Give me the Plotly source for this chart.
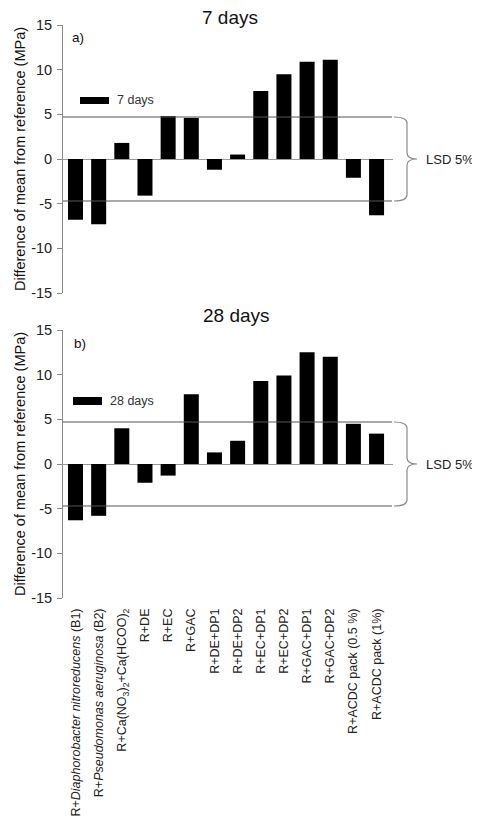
import plotly.graph_objects as go

categories = [
    "R+<i>Diaphorobacter nitroreducens</i> (B1)",
    "R+<i>Pseudomonas aeruginosa</i> (B2)",
    "R+Ca(NO<sub>3</sub>)<sub>2</sub>+Ca(HCOO)<sub>2</sub>",
    "R+DE", "R+EC", "R+GAC",
    "R+DE+DP1", "R+DE+DP2", "R+EC+DP1", "R+EC+DP2",
    "R+GAC+DP1", "R+GAC+DP2",
    "R+ACDC pack (0.5 %)", "R+ACDC pack (1%)",
]
days7 = [-6.8, -7.3, 1.8, -4.1, 4.8, 4.6, -1.2, 0.5, 7.6, 9.5, 10.9, 11.1, -2.1, -6.3]
days28 = [-6.3, -5.8, 4.0, -2.1, -1.3, 7.8, 1.3, 2.6, 9.3, 9.9, 12.5, 12.0, 4.5, 3.4]
lsd7 = 4.7
lsd28 = 4.7
y_ticks = [-15, -10, -5, 0, 5, 10, 15]
y_tick_labels = ["-15", "-10", "-5", "0", "5", "10", "15"]

FONT = "Arial, Liberation Sans, sans-serif"
# page body has an 8px margin, so the figure is drawn 8px in from the top-left
OFF = 8
W, H = 480 - OFF, 825 - 2 * OFF
PL, PR, PT, PB = 63, 393, 25, 598  # plot area in page pixels
L = PL - OFF
T = PT - OFF
R = W - (PR - OFF)
B = H - (PB - OFF)
PW = PR - PL
PH = PB - PT

def px_x(px):
    return (px - PL) / PW

def px_y(py):
    return (PB - py) / PH

top_dom = [px_y(293), 1.0]
bot_dom = [0.0, px_y(330)]

fig = go.Figure()
fig.add_trace(go.Bar(x=categories, y=days7, name="7 days", marker=dict(color="black", line=dict(width=0)),
                     xaxis="x", yaxis="y", showlegend=False))
fig.add_trace(go.Bar(x=categories, y=days28, name="28 days", marker=dict(color="black", line=dict(width=0)),
                     xaxis="x2", yaxis="y2", showlegend=False))

xr = [-0.54, 13.71]
yaxis_common = dict(
    range=[-15, 15], tickvals=y_ticks, ticktext=y_tick_labels, showgrid=False,
    showline=True, linecolor="#8a8a8a", linewidth=1,
    ticks="outside", ticklen=5, tickcolor="#8a8a8a", ticklabelstandoff=2,
    zeroline=True, zerolinecolor="#9a9a9a", zerolinewidth=1,
    tickfont=dict(size=14.5, color="#222", family=FONT),
    title=dict(text="Difference of mean from reference (MPa)", font=dict(size=14.5, color="#111", family=FONT), standoff=2),
)

fig.update_layout(
    width=W, height=H,
    margin=dict(l=L, r=R, t=T, b=B, autoexpand=False),
    paper_bgcolor="white", plot_bgcolor="white",
    bargap=0.352,
    font=dict(family=FONT, color="#222"),
    xaxis=dict(domain=[0, 1], anchor="y", range=xr, showticklabels=False, showline=False,
               ticks="", showgrid=False, zeroline=False),
    xaxis2=dict(domain=[0, 1], anchor="y2", range=xr, showline=False, ticks="", showgrid=False,
                zeroline=False, tickangle=-90, ticklabelstandoff=7,
                tickfont=dict(size=12.5, color="#222", family=FONT)),
    yaxis=dict(domain=top_dom, anchor="x", **yaxis_common),
    yaxis2=dict(domain=bot_dom, anchor="x2", **yaxis_common),
)

shapes = []
annotations = []
for yref, lsd in (("y", lsd7), ("y2", lsd28)):
    for v in (lsd, -lsd):
        shapes.append(dict(type="line", xref="paper", yref=yref, x0=0, x1=px_x(392), y0=v, y1=v,
                           line=dict(color="#555", width=1)))
    r = 0.7
    xa, xb, xc = px_x(394), px_x(407), px_x(417)
    path = (f"M {xa},{lsd} Q {xb},{lsd} {xb},{lsd - r} L {xb},{r} Q {xb},0 {xc},0 "
            f"Q {xb},0 {xb},{-r} L {xb},{-lsd + r} Q {xb},{-lsd} {xa},{-lsd}")
    shapes.append(dict(type="path", xref="paper", yref=yref, path=path,
                       line=dict(color="#8a8a8a", width=1.2)))
    annotations.append(dict(text="LSD 5%", xref="paper", yref=yref, x=px_x(424), y=0,
                            xanchor="left", yanchor="middle", showarrow=False,
                            font=dict(size=13, color="#222", family=FONT)))

# legend swatches
shapes.append(dict(type="rect", xref="paper", yref="paper", x0=px_x(80), x1=px_x(109),
                   y0=px_y(104), y1=px_y(97), fillcolor="black", line=dict(width=0)))
shapes.append(dict(type="rect", xref="paper", yref="paper", x0=px_x(73), x1=px_x(102),
                   y0=px_y(405), y1=px_y(397), fillcolor="black", line=dict(width=0)))
annotations += [
    dict(text="7 days", xref="paper", yref="paper", x=px_x(115), y=px_y(100.5), xanchor="left",
         yanchor="middle", showarrow=False, font=dict(size=12.5, color="#333", family=FONT)),
    dict(text="28 days", xref="paper", yref="paper", x=px_x(108), y=px_y(401), xanchor="left",
         yanchor="middle", showarrow=False, font=dict(size=12.5, color="#333", family=FONT)),
    dict(text="a)", xref="paper", yref="paper", x=px_x(70), y=px_y(37), xanchor="left",
         yanchor="middle", showarrow=False, font=dict(size=13.5, color="#111", family=FONT)),
    dict(text="b)", xref="paper", yref="paper", x=px_x(72), y=px_y(343), xanchor="left",
         yanchor="middle", showarrow=False, font=dict(size=13.5, color="#111", family=FONT)),
    dict(text="7 days", xref="paper", yref="paper", x=px_x(230), y=px_y(17.5), xanchor="center",
         yanchor="middle", showarrow=False, font=dict(size=19, color="#111", family=FONT)),
    dict(text="28 days", xref="paper", yref="paper", x=px_x(236), y=px_y(315), xanchor="center",
         yanchor="middle", showarrow=False, font=dict(size=19, color="#111", family=FONT)),
]
fig.update_layout(shapes=shapes, annotations=annotations)

fig.write_html("out.html")
